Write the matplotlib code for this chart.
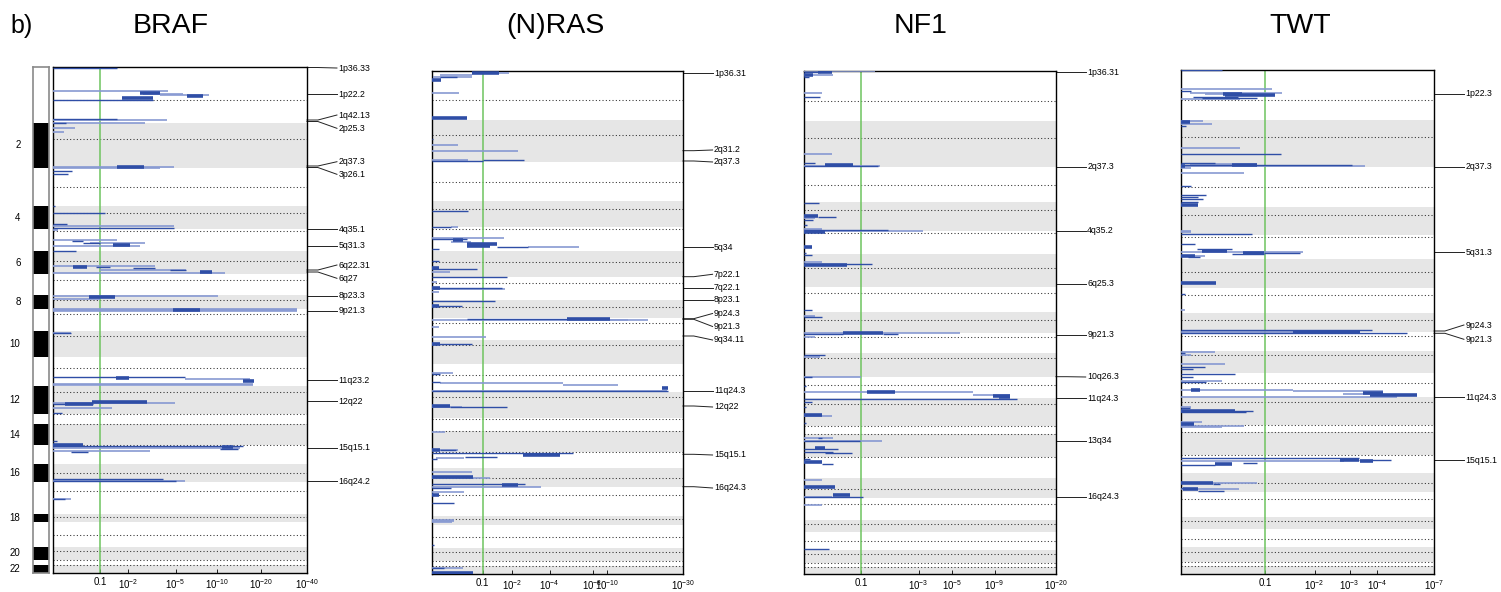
import numpy as np
import matplotlib
matplotlib.use("Agg")
import matplotlib.pyplot as plt
from matplotlib.transforms import blended_transform_factory
from matplotlib.ticker import NullLocator

plt.rcParams['font.family'] = ['Liberation Sans', 'DejaVu Sans']
plt.rcParams['mathtext.fontset'] = 'custom'
plt.rcParams['mathtext.rm'] = 'Liberation Sans'
plt.rcParams['mathtext.it'] = 'Liberation Sans:italic'
plt.rcParams['mathtext.bf'] = 'Liberation Sans:bold'
plt.rcParams['mathtext.default'] = 'regular'

# centromere position as fraction of each chromosome (gene-index units)
cen_frac = [0.6, 0.37, 0.51, 0.29, 0.09, 0.44, 0.27, 0.37, 0.21, 0.2, 0.4,
            0.2, 0.02, 0.02, 0.02, 0.53, 0.29, 0.35, 0.53, 0.3, 0.03, 0.03]

# chromosome lengths (gene-index units) for each gene list
braf_chrom = [55.7, 44.8, 38.2, 23.6, 22.0, 22.7, 21.0, 14.3, 21.4, 26.0, 29.3,
              28.0, 10.0, 21.0, 19.0, 17.7, 32.3, 7.7, 25.0, 13.3, 5.0, 8.0]
nras_chrom = [49.0, 41.7, 39.3, 26.3, 23.7, 26.0, 23.0, 18.3, 21.7, 24.3, 27.4,
              26.6, 12.7, 21.0, 16.3, 18.4, 29.0, 9.3, 22.7, 13.3, 5.0, 8.0]
nf1_chrom = [50.0, 45.7, 35.0, 29.3, 23.0, 32.7, 25.0, 21.6, 20.0, 23.4, 21.3,
             28.0, 8.0, 23.0, 21.0, 20.0, 22.0, 11.7, 18.3, 13.0, 4.0, 7.0]
twt_chrom = [50.5, 46.7, 40.0, 28.3, 24.3, 28.4, 25.6, 18.4, 19.3, 22.3, 23.4,
             28.3, 6.7, 23.3, 18.3, 18.4, 25.0, 12.6, 18.0, 14.4, 4.3, 8.0]

# enrichment segments: (genome position, start, end), start/end in -log10(p)
braf_light = [
    (24.0, 0, 4.37), (27.0, 2.73, 5.69), (28.0, 3.78, 8.79),
    (53.0, 0, 4.3), (56.0, 0, 2.84), (61.0, 0, 0.38), (65.0, 0, 0.18),
    (99.7, 0, 4.87), (101.3, 0, 3.78),
    (159.0, 0, 4.87), (163.0, 0, 0.08),
    (173.0, 0, 1.55), (176.0, 0.72, 2.84), (179.0, 0, 2.57),
    (198.5, 0, 3.44), (202.5, 0.99, 5.99), (206.0, 0, 11.4),
    (229.0, 0, 10.2), (232.3, 0, 0.99),
    (242.0, 0, 34.4), (243.0, 0, 34.4), (244.0, 0, 34.4),
    (266.0, 0, 0.3),
    (312.0, 5.89, 16.8), (316.8, 0, 17.6), (318.2, 0, 17.6),
    (336.0, 0, 4.95), (341.3, 0, 1.37),
    (380.5, 0, 14.4), (384.0, 0, 3.13),
    (414.5, 0, 5.89), (432.5, 0, 0.3),
]
braf_dark = [
    (0.5, 0, 1.55), (33.0, 0, 3.31), (52.0, 0, 1.55), (56.0, 0, 0.21),
    (103.7, 0, 0.32), (107.0, 0, 0.25),
    (139.0, 0, 0.03), (146.0, 0, 1.14), (157.0, 0, 0.23), (161.0, 0, 4.87),
    (173.5, 0.32, 0.55), (175.5, 0.55, 0.99), (184.0, 0, 0.4),
    (200.0, 0.88, 1.3), (201.0, 2.22, 3.44), (202.5, 4.53, 5.99),
    (266.3, 0, 0.3), (309.7, 0, 5.89),
    (337.0, 0, 0.79), (346.3, 0, 0.14),
    (373.7, 0, 0.06), (378.7, 0, 15.1), (381.5, 10.5, 13.95), (384.5, 0.3, 0.67),
    (412.3, 0, 3.99), (414.0, 0, 5.04), (432.0, 0, 0.2),
]
braf_core = [
    (26.0, 2.57, 3.78), (28.5, 6.1, 7.96), (31.0, 1.74, 3.31),
    (100.3, 1.55, 2.78), (177.5, 1.4, 2.08),
    (199.5, 0.34, 0.64), (204.5, 7.58, 9.2), (229.5, 0.69, 1.48),
    (243.0, 4.78, 7.58), (310.5, 1.51, 2.04), (313.5, 15.1, 17.9),
    (335.0, 0.77, 2.95), (336.5, 0.19, 0.79),
    (377.5, 0, 0.55), (379.5, 10.8, 13.0),
]

nras_light = [
    (1.7, 1.51, 1.88), (4.0, 0.12, 0.72), (6.3, 0.01, 0.72),
    (21.7, 0, 0.45), (74.0, 0, 0.43), (79.7, 0, 2.26), (89.0, 0, 0.64),
    (155.7, 0.29, 0.43), (167.3, 0, 1.68), (171.0, 0.29, 0.7), (176.0, 2.74, 6.5),
    (201.3, 0, 0.28), (210.7, 0, 0.07), (217.7, 0, 1.7), (220.7, 0, 0.1),
    (248.7, 0, 18.3), (249.5, 10.4, 13.7), (255.7, 0, 0.1), (265.7, 0, 1.09),
    (302.0, 0, 0.34), (311.7, 0.12, 5.03), (314.0, 5.03, 11.8), (320.5, 0, 24.0),
    (336.3, 0, 0.5), (360.7, 0, 0.2), (379.0, 0, 0.43), (386.7, 0.06, 0.54),
    (400.7, 0, 0.72), (406.7, 0, 1.21), (415.7, 0, 3.42), (421.3, 0, 0.55),
    (448.7, 0, 0.36), (449.5, 0, 0.36), (451.3, 0, 0.32), (497.0, 0, 0.52),
]
nras_dark = [
    (6.0, 0.12, 0.4), (68.3, 0, 0.02), (90.3, 0, 1.02), (89.5, 1.02, 2.54),
    (140.0, 0, 0.64), (155.7, 0, 0.29), (168.3, 0, 0.61), (175.7, 1.42, 2.74),
    (178.3, 0, 0.1), (190.3, 0, 0.1), (197.7, 0, 0.86), (205.7, 0, 1.8),
    (216.7, 0, 1.6), (229.7, 0, 1.37), (235.3, 0, 0.5), (248.0, 0.61, 5.31),
    (273.0, 0, 0.72), (303.0, 0, 0.12), (311.0, 0, 0.12), (319.7, 0, 24.4),
    (335.7, 0.28, 1.78), (379.5, 0.12, 0.38), (382.3, 0, 5.91), (385.7, 0.57, 1.42),
    (388.3, 0, 0.07), (413.0, 0, 2.57), (417.3, 0, 0.3), (431.7, 0, 0.36),
    (474.3, 0, 0.03), (497.3, 0, 0.18),
]
nras_core = [
    (1.7, 0.72, 1.51), (9.0, 0, 0.13), (46.7, 0, 0.62),
    (169.0, 0.33, 0.52), (173.3, 0.61, 1.42), (175.0, 0.61, 1.2),
    (197.3, 0, 0.1), (217.3, 0, 0.12), (235.0, 0, 0.1), (248.3, 5.31, 10.4),
    (273.3, 0, 0.12), (317.0, 22.2, 24.4), (335.0, 0, 0.28), (378.7, 0, 0.12),
    (383.7, 2.49, 4.76), (406.3, 0, 0.76), (414.0, 1.6, 2.26), (424.0, 0, 0.1),
    (501.5, 0, 0.76),
]

nf1_light = [
    (0.5, 0, 1.36), (4.3, 0, 0.42), (21.7, 0, 0.24), (83.0, 0, 0.4),
    (94.7, 0, 1.5), (147.0, 0, 0.14), (158.3, 0, 0.24), (160.0, 0, 3.23),
    (191.0, 0, 0.24), (245.0, 0, 0.14), (261.7, 0, 5.58), (265.7, 0, 0.14),
    (285.7, 0, 0.21), (305.7, 0, 1.0), (321.0, 0, 6.73), (323.7, 6.73, 11.05),
    (344.7, 0, 0.4), (367.0, 0, 0.42), (370.3, 0, 1.56), (409.0, 0, 0.24),
    (426.3, 0, 0.4), (434.0, 0, 0.24),
]
nf1_dark = [
    (1.0, 0, 0.21), (5.7, 0, 0.06), (26.3, 0, 0.21), (92.3, 0, 0.14),
    (95.0, 0, 1.45), (132.3, 0, 0.2), (145.7, 0.19, 0.48), (149.0, 0, 0.12),
    (154.0, 0, 0.04), (159.0, 0, 1.77), (182.3, 0, 0.03), (184.0, 0, 0.1),
    (193.0, 0, 1.27), (239.0, 0, 0.1), (246.3, 0, 0.24), (263.3, 0, 0.61),
    (263.0, 1.61, 2.13), (284.0, 0, 0.29), (306.3, 0, 0.1), (315.0, 0, 0.03),
    (328.0, 0, 12.06), (330.7, 0, 0.1), (336.0, 0, 0.03), (352.3, 0, 0.03),
    (367.3, 0.19, 0.24), (369.7, 0, 0.97), (378.3, 0, 0.51), (380.7, 0, 0.42),
    (382.3, 0.29, 0.78), (388.3, 0, 0.07), (393.0, 0.24, 0.42), (425.7, 0, 1.05),
    (478.3, 0, 0.36),
]
nf1_core = [
    (0.7, 0.19, 0.4), (4.0, 0, 0.12), (94.0, 0.29, 0.81), (145.0, 0, 0.19),
    (160.7, 0, 0.29), (176.0, 0, 0.1), (194.0, 0, 0.68), (262.3, 0.61, 1.61),
    (321.3, 1.13, 2.0), (325.0, 8.85, 11.05), (326.5, 9.5, 11.05), (344.3, 0, 0.24),
    (377.3, 0.14, 0.29), (390.7, 0, 0.24), (416.3, 0, 0.45), (424.0, 0.42, 0.74),
]

twt_light = [
    (19.8, 0, 1.11), (23.8, 0.08, 1.29), (24.8, 0.22, 0.58), (29.5, 0, 0.62),
    (51.2, 0, 0.2), (54.5, 0, 0.29), (78.8, 0, 0.63), (94.5, 0.08, 0.86),
    (96.2, 0, 3.54), (98.0, 0, 0.09), (103.8, 0, 0.68), (161.0, 0, 0.09),
    (162.8, 0, 0.09), (182.0, 0, 1.73), (186.0, 0, 0.22), (240.5, 0, 0.03),
    (262.5, 0, 1.52), (282.8, 0, 0.32), (285.5, 0, 0.09), (294.8, 0, 0.44),
    (311.8, 0, 0.4), (320.2, 0, 1.52), (321.8, 1.52, 4.28), (324.2, 2.79, 4.28),
    (327.8, 0, 4.89), (337.5, 0, 0.09), (352.2, 0, 0.19), (356.2, 0, 0.68),
    (357.8, 0, 0.4), (391.8, 0, 2.83), (413.8, 0, 0.87), (419.5, 0, 0.61),
]
twt_dark = [
    (0.5, 0, 0.4), (21.2, 0, 0.09), (27.2, 0.1, 0.6), (28.2, 0.19, 0.86),
    (56.5, 0, 0.04), (84.8, 0, 1.27), (93.8, 0, 0.32), (95.5, 0, 3.07),
    (116.5, 0, 0.09), (125.5, 0, 0.23), (127.2, 0, 0.15), (129.8, 0, 0.2),
    (132.2, 0, 0.15), (164.5, 0, 0.79), (174.5, 0, 0.12), (179.8, 0.14, 0.52),
    (183.2, 0.97, 1.66), (184.8, 0.52, 0.97), (187.5, 0.06, 0.17), (224.0, 0, 0.03),
    (260.5, 0, 3.8), (263.8, 0, 5.39), (283.0, 0, 0.03), (297.2, 0, 0.22),
    (299.5, 0, 0.1), (304.5, 0, 0.56), (307.2, 0, 0.1), (312.5, 0, 0.23),
    (338.8, 0, 0.08), (341.5, 0, 0.81), (342.8, 0, 0.7), (388.8, 0, 3.3),
    (390.5, 3.3, 4.62), (393.8, 0.67, 0.87), (395.5, 0, 0.32), (414.2, 0.3, 0.38),
    (418.8, 0, 0.02), (421.2, 0.15, 0.42),
]
twt_core = [
    (24.0, 0.41, 0.65), (25.5, 0.44, 1.17), (52.2, 0, 0.08), (95.0, 0.52, 0.86),
    (96.5, 0, 0.03), (135.5, 0, 0.15), (181.0, 0.19, 0.46), (183.0, 0.67, 0.97),
    (186.5, 0, 0.12), (213.2, 0, 0.33), (262.0, 1.52, 3.36), (320.5, 0.09, 0.17),
    (323.2, 3.48, 4.28), (325.8, 3.73, 5.96), (341.0, 0, 0.56), (354.5, 0, 0.11),
    (390.0, 2.69, 3.3), (391.2, 3.36, 3.86), (394.8, 0.32, 0.52), (413.2, 0, 0.3),
    (419.8, 0.02, 0.15),
]

# cytoband labels: (band, position of hit, position of text)
braf_bands = [
    ("1p36.33", 0.5, 1.0), ("1p22.2", 27.3, 27.3), ("1q42.13", 53.0, 48.0),
    ("2p25.3", 54.5, 61.3), ("2q37.3", 99.0, 94.7), ("3p26.1", 100.5, 107.3),
    ("4q35.1", 162.0, 162.0), ("5q31.3", 178.7, 178.7), ("6q22.31", 203.0, 198.0),
    ("6q27", 205.0, 211.3), ("8p23.3", 228.7, 228.7), ("9p21.3", 243.7, 243.7),
    ("11q23.2", 313.0, 313.0), ("12q22", 334.0, 334.0), ("15q15.1", 380.7, 380.7),
    ("16q24.2", 414.0, 414.0),
]
nras_bands = [
    ("1p36.31", 2.3, 2.3), ("2q31.2", 79.7, 79.0), ("2q37.3", 90.0, 91.0),
    ("5q34", 176.3, 176.3), ("7p22.1", 205.7, 203.3), ("7q22.1", 217.0, 217.0),
    ("8p23.1", 229.0, 229.0), ("9p24.3", 247.7, 242.5), ("9p21.3", 248.3, 255.5),
    ("9q34.11", 265.0, 269.0), ("11q24.3", 320.0, 320.0), ("12q22", 335.0, 336.0),
    ("15q15.1", 383.3, 384.0), ("16q24.3", 415.7, 417.0),
]
nf1_bands = [
    ("1p36.31", 1.3, 1.3), ("2q37.3", 95.7, 95.7), ("4q35.2", 159.7, 159.7),
    ("6q25.3", 213.0, 213.0), ("9p21.3", 264.0, 264.0), ("10q26.3", 305.7, 306.0),
    ("11q24.3", 327.3, 327.3), ("13q34", 369.7, 369.7), ("16q24.3", 426.0, 426.0),
]
twt_bands = [
    ("1p22.3", 24.0, 24.0), ("2q37.3", 97.2, 97.2), ("5q31.3", 182.8, 182.8),
    ("9p24.3", 261.5, 255.5), ("9p21.3", 263.8, 269.8), ("11q24.3", 327.8, 327.8),
    ("15q15.1", 390.5, 390.5),
]

# x tick positions as -log10(p); the last one is the axis limit
braf_ticks = [1, 2, 5, 10, 20, 40]
nras_ticks = [1, 2, 4, 8, 10, 30]
nf1_ticks = [1, 3, 5, 9, 20]
twt_ticks = [1, 2, 3, 4, 7]

DARK = '#2f4ea6'
LIGHT = '#8799d2'
BAND = '#e6e6e6'
GREEN = '#6ec45f'


def fwd(x):
    return np.log10(1 + np.clip(x, -0.999, None))


def inv(y):
    return 10 ** y - 1


def draw_panel(ax, chrom, light, dark, core, ticks, bands):
    bounds = np.concatenate([[0], np.cumsum(chrom)])
    total = bounds[-1]
    xmax = ticks[-1]
    for i in range(1, 22, 2):
        ax.axhspan(bounds[i], bounds[i + 1], color=BAND, lw=0, zorder=0)
    cen = bounds[:-1] + np.array(cen_frac) * np.array(chrom)
    ax.hlines(cen, 0, xmax, colors='#2e2e2e', linestyles=(0, (1, 2.2)),
              lw=0.75, zorder=1)
    ax.axvline(1, color=GREEN, lw=1.1, zorder=2)
    for segs, col, lw in [(light, LIGHT, 1.2), (dark, DARK, 1.0), (core, DARK, 2.6)]:
        y, x0, x1 = zip(*segs)
        ax.hlines(y, x0, x1, colors=col, lw=lw, zorder=3)

    ax.set_xscale('function', functions=(fwd, inv))
    ax.set_xlim(0, xmax)
    ax.set_ylim(total, 0)
    ax.set_yticks([])
    ax.set_xticks(ticks)
    ax.set_xticklabels(['0.1' if t == 1 else '$10^{-%d}$' % t for t in ticks])
    ax.xaxis.set_minor_locator(NullLocator())
    ax.tick_params(axis='x', direction='in', length=3, width=0.6,
                   labelsize=7, pad=3)
    for s in ax.spines.values():
        s.set_linewidth(1.0)

    # cytoband call-outs on the right
    tr = blended_transform_factory(ax.transAxes, ax.transData)
    for name, ym, yt in bands:
        ax.plot([1.0, 1.043, 1.118], [ym, ym, yt], transform=tr, clip_on=False,
                color='#222222', lw=0.7)
        ax.text(1.124, yt, name, transform=tr, va='center', ha='left',
                fontsize=6.3)


fig = plt.figure(figsize=(15.01, 5.92), dpi=100)

panels = [
    ("BRAF", braf_chrom, braf_light, braf_dark, braf_core, braf_ticks, braf_bands,
     [0.03531, 0.0321, 0.1692, 0.8547], 0.114),
    ("(N)RAS", nras_chrom, nras_light, nras_dark, nras_core, nras_ticks, nras_bands,
     [0.2878, 0.0304, 0.1672, 0.8497], 0.3698),
    ("NF1", nf1_chrom, nf1_light, nf1_dark, nf1_core, nf1_ticks, nf1_bands,
     [0.5356, 0.0304, 0.1679, 0.8497], 0.6136),
    ("TWT", twt_chrom, twt_light, twt_dark, twt_core, twt_ticks, twt_bands,
     [0.7868, 0.0304, 0.1686, 0.8522], 0.866),
]

for title, chrom, light, dark, core, ticks, bands, rect, tx in panels:
    ax = fig.add_axes(rect)
    draw_panel(ax, chrom, light, dark, core, ticks, bands)
    fig.text(tx, 0.956, title, ha='center', va='center', fontsize=20.5)

# chromosome ideogram next to the first panel
ax_id = fig.add_axes([0.0222, 0.0321, 0.01066, 0.8547])
bounds = np.concatenate([[0], np.cumsum(braf_chrom)])
centers = (bounds[:-1] + bounds[1:]) / 2
colors = ['black' if (i + 1) % 2 == 0 else 'white' for i in range(22)]
ax_id.barh(centers, 1, height=braf_chrom, left=0, color=colors, lw=0)
ax_id.set_xlim(0, 1)
ax_id.set_ylim(bounds[-1], 0)
ax_id.set_xticks([])
ax_id.set_yticks([])
for s in ax_id.spines.values():
    s.set_color('#8a8a8a')
    s.set_linewidth(1.2)
for i in range(1, 22, 2):
    ax_id.text(-0.8, centers[i], str(i + 1), ha='right', va='center',
               fontsize=7, transform=blended_transform_factory(ax_id.transAxes, ax_id.transData))

fig.text(0.0067, 0.956, 'b)', ha='left', va='center', fontsize=18)

fig.savefig('out.png', dpi=100)
